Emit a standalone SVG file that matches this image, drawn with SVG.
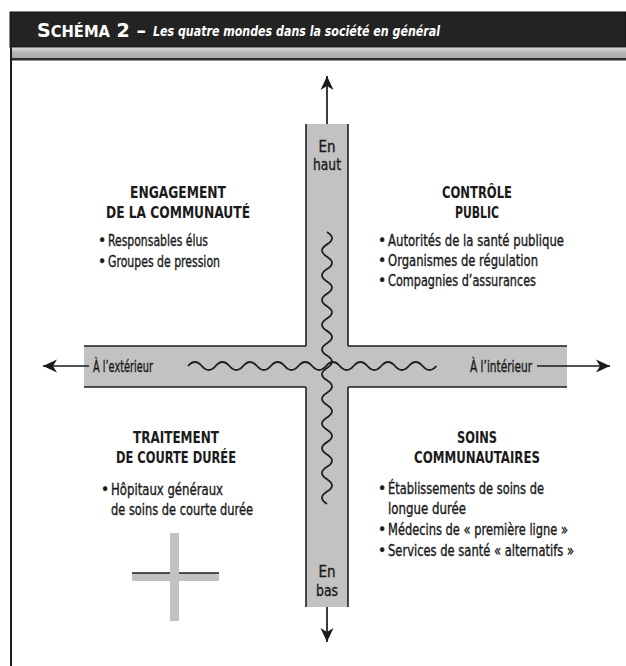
<svg xmlns="http://www.w3.org/2000/svg" width="626" height="666" viewBox="0 0 626 666">
<defs>
<linearGradient id="band" x1="0" y1="0" x2="0" y2="1">
<stop offset="0" stop-color="#d8d8d8"/>
<stop offset="0.5" stop-color="#b4b4b4"/>
<stop offset="1" stop-color="#a8a8a8"/>
</linearGradient>
<marker id="ah" viewBox="-14 -7 15 14" refX="0" refY="0" markerWidth="15" markerHeight="14" markerUnits="userSpaceOnUse" orient="auto">
<path d="M0,0 L-14,-6.5 L-10,0 L-14,6.5 Z" fill="#1a1a1a"/>
</marker>
<style>
.h{font-family:"Liberation Sans Narrow","DejaVu Sans Condensed","Liberation Sans",sans-serif;font-weight:bold;font-size:16.5px;fill:#1a1a1a;text-anchor:middle}
.b{font-family:"Liberation Sans Narrow","DejaVu Sans Condensed","Liberation Sans",sans-serif;font-size:15.5px;fill:#1a1a1a;stroke:#1a1a1a;stroke-width:0.35}
.ax{font-family:"Liberation Sans Narrow","DejaVu Sans Condensed","Liberation Sans",sans-serif;font-size:15.5px;fill:#1a1a1a;stroke:#1a1a1a;stroke-width:0.35}
.axc{font-family:"Liberation Sans Narrow","DejaVu Sans Condensed","Liberation Sans",sans-serif;font-size:15.5px;fill:#1a1a1a;stroke:#1a1a1a;stroke-width:0.35;text-anchor:middle}
.edge{stroke:#1e1e1e;stroke-width:1.6;fill:none}
.wave{stroke:#1e1e1e;stroke-width:1.8;fill:none}
.conn{stroke:#1a1a1a;stroke-width:1.7;fill:none;marker-end:url(#ah)}
.bar{fill:#c2c2c2}
</style>
</defs>
<rect width="626" height="666" fill="#ffffff"/>
<g id="header">
<rect x="10" y="12" width="616" height="35" fill="#232323" stroke="#111" stroke-width="1"/>
<rect x="10" y="48" width="616" height="10" fill="url(#band)"/>
<rect x="10" y="58" width="616" height="2.5" fill="#2a2a2a"/>
<line x1="11" y1="12" x2="11" y2="666" stroke="#1e1e1e" stroke-width="2"/>
<text x="37" y="37" fill="#ffffff" font-family="Liberation Sans Narrow, DejaVu Sans Condensed, Liberation Sans, sans-serif" font-weight="bold" textLength="109" lengthAdjust="spacingAndGlyphs"><tspan font-size="20">S</tspan><tspan font-size="15.5">CHÉMA</tspan><tspan font-size="20"> 2 –</tspan></text>
<text x="153" y="36" fill="#ffffff" font-family="Liberation Sans Narrow, DejaVu Sans Condensed, Liberation Sans, sans-serif" font-weight="bold" font-style="italic" font-size="14.5" textLength="287" lengthAdjust="spacingAndGlyphs">Les quatre mondes dans la société en général</text>
</g>
<g id="cross">
<rect class="bar" x="306" y="124" width="42" height="483"/>
<rect class="bar" x="84" y="346" width="483" height="41"/>
<path class="edge" d="M306,124 V346 M348,124 V346 M306,387 V607 M348,387 V607 M84,346 H306 M348,346 H567 M84,387 H306 M348,387 H567"/>
</g>
<g id="waves">
<path class="wave" d="M188,366 q6.9,-8 13.8,0 t13.8,0 t13.8,0 t13.8,0 t13.8,0 t13.8,0 t13.8,0 t13.8,0 t13.8,0 t13.8,0 t13.8,0 t13.8,0 t13.8,0 t13.8,0 t13.8,0 t13.8,0 t13.8,0 t13.8,0"/>
<path class="wave" d="M327,232 q10,6.18 0,12.36 t0,12.36 t0,12.36 t0,12.36 t0,12.36 t0,12.36 t0,12.36 t0,12.36 t0,12.36 t0,12.36 t0,12.36 t0,12.36 t0,12.36 t0,12.36 t0,12.36 t0,12.36 t0,12.36 t0,12.36 t0,12.36 t0,12.36 t0,12.36 t0,12.36"/>
</g>
<g id="connectors">
<path class="conn" d="M327,124 V76"/>
<path class="conn" d="M327,607 V642"/>
<path class="conn" d="M89,366 H43"/>
<path class="conn" d="M537,366 H610"/>
</g>
<g id="label-haut">
<text class="axc" x="327" y="152" textLength="17" lengthAdjust="spacingAndGlyphs">En</text>
<text class="axc" x="327" y="170" textLength="28" lengthAdjust="spacingAndGlyphs">haut</text>
</g>
<g id="label-bas">
<text class="axc" x="327" y="577" textLength="17" lengthAdjust="spacingAndGlyphs">En</text>
<text class="axc" x="327" y="596" textLength="22" lengthAdjust="spacingAndGlyphs">bas</text>
</g>
<g id="label-exterieur">
<text class="ax" x="93" y="372" textLength="60" lengthAdjust="spacingAndGlyphs">À l’extérieur</text>
</g>
<g id="label-interieur">
<text class="ax" x="470" y="372" textLength="62" lengthAdjust="spacingAndGlyphs">À l’intérieur</text>
</g>
<g id="engagement">
<text class="h" x="178" y="198" textLength="96" lengthAdjust="spacingAndGlyphs">ENGAGEMENT</text>
<text class="h" x="178" y="218" textLength="144" lengthAdjust="spacingAndGlyphs">DE LA COMMUNAUTÉ</text>
<text class="b" x="98" y="246">•</text>
<text class="b" x="108" y="246" textLength="100" lengthAdjust="spacingAndGlyphs">Responsables élus</text>
<text class="b" x="98" y="267">•</text>
<text class="b" x="108" y="267" textLength="112" lengthAdjust="spacingAndGlyphs">Groupes de pression</text>
</g>
<g id="controle">
<text class="h" x="477" y="198" textLength="70" lengthAdjust="spacingAndGlyphs">CONTRÔLE</text>
<text class="h" x="477" y="218" textLength="44" lengthAdjust="spacingAndGlyphs">PUBLIC</text>
<text class="b" x="378" y="246">•</text>
<text class="b" x="388" y="246" textLength="176" lengthAdjust="spacingAndGlyphs">Autorités de la santé publique</text>
<text class="b" x="378" y="266">•</text>
<text class="b" x="388" y="266" textLength="150" lengthAdjust="spacingAndGlyphs">Organismes de régulation</text>
<text class="b" x="378" y="286">•</text>
<text class="b" x="388" y="286" textLength="148" lengthAdjust="spacingAndGlyphs">Compagnies d’assurances</text>
</g>
<g id="traitement">
<text class="h" x="176" y="443" textLength="86" lengthAdjust="spacingAndGlyphs">TRAITEMENT</text>
<text class="h" x="176" y="463" textLength="120" lengthAdjust="spacingAndGlyphs">DE COURTE DURÉE</text>
<text class="b" x="101" y="495">•</text>
<text class="b" x="111" y="495" textLength="112" lengthAdjust="spacingAndGlyphs">Hôpitaux généraux</text>
<text class="b" x="111" y="515" textLength="142" lengthAdjust="spacingAndGlyphs">de soins de courte durée</text>
</g>
<g id="soins">
<text class="h" x="477" y="443" textLength="40" lengthAdjust="spacingAndGlyphs">SOINS</text>
<text class="h" x="477" y="463" textLength="126" lengthAdjust="spacingAndGlyphs">COMMUNAUTAIRES</text>
<text class="b" x="378" y="494">•</text>
<text class="b" x="388" y="494" textLength="156" lengthAdjust="spacingAndGlyphs">Établissements de soins de</text>
<text class="b" x="388" y="514" textLength="78" lengthAdjust="spacingAndGlyphs">longue durée</text>
<text class="b" x="378" y="535">•</text>
<text class="b" x="388" y="535" textLength="180" lengthAdjust="spacingAndGlyphs">Médecins de « première ligne »</text>
<text class="b" x="378" y="556">•</text>
<text class="b" x="388" y="556" textLength="186" lengthAdjust="spacingAndGlyphs">Services de santé « alternatifs »</text>
</g>
<g id="mini-cross">
<rect class="bar" x="170" y="533" width="9" height="88"/>
<rect class="bar" x="132" y="573" width="87" height="8"/>
<path class="edge" d="M132,573 H170 M179,573 H219" stroke-width="1.4"/>
</g>
</svg>
